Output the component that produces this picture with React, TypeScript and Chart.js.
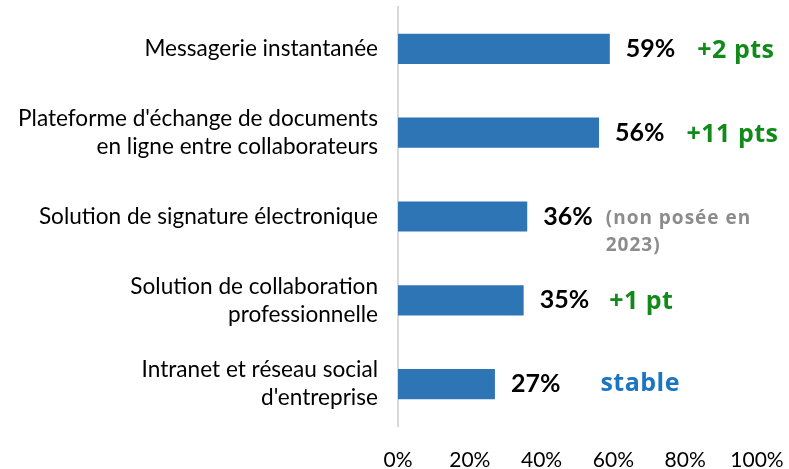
import React, { useEffect, useRef } from "react";
import { Chart, registerables } from "chart.js";

Chart.register(...registerables);

const categories: (string | string[])[] = [
  "Messagerie instantanée",
  ["Plateforme d'échange de documents", "en ligne entre collaborateurs"],
  "Solution de signature électronique",
  ["Solution de collaboration", "professionnelle"],
  ["Intranet et réseau social", "d'entreprise"],
];
const values = [59, 56, 36, 35, 27];
const valueLabels = ["59%", "56%", "36%", "35%", "27%"];
const evolutionLabels: string[][] = [
  ["+2 pts"],
  ["+11 pts"],
  ["(non posée en", "2023)"],
  ["+1 pt"],
  ["stable"],
];
const evolutionKinds = ["up", "up", "na", "up", "stable"];
const xTicks = [0, 20, 40, 60, 80, 100];

const kindStyle: Record<string, { color: string; font: string; dy: number; ls: string }> = {
  up: { color: "#118a1a", font: "700 25px 'Open Sans'", dy: 2, ls: "0.5px" },
  na: { color: "#8c8c8c", font: "700 19px 'Open Sans'", dy: 2, ls: "1px" },
  stable: { color: "#1b75c0", font: "700 25px 'Open Sans'", dy: 0, ls: "0.5px" },
};
const annotationGaps = [22, 22, 13, 20, 40];

const labelPlugin = {
  id: "barLabels",
  afterDatasetsDraw(chart: any) {
    const ctx = chart.ctx;
    const meta = chart.getDatasetMeta(0);
    meta.data.forEach((bar: any, i: number) => {
      const x = bar.x + 16;
      const y = bar.y;
      ctx.save();
      ctx.font = "700 25px Lato";
      ctx.fillStyle = "#000";
      ctx.textAlign = "left";
      ctx.textBaseline = "middle";
      ctx.fillText(valueLabels[i], x, y);
      const w = ctx.measureText(valueLabels[i]).width;
      const st = kindStyle[evolutionKinds[i]];
      ctx.font = st.font;
      ctx.fillStyle = st.color;
      (ctx as any).letterSpacing = st.ls;
      const ax = x + w + annotationGaps[i];
      evolutionLabels[i].forEach((ln, j) => {
        ctx.fillText(ln, ax, y + st.dy + j * 27);
      });
      ctx.restore();
    });
  },
};

export default function App() {
  const ref = useRef<HTMLCanvasElement | null>(null);
  useEffect(() => {
    if (!ref.current) return;
    const chart = new Chart(ref.current, {
      type: "bar",
      data: {
        labels: categories as any,
        datasets: [
          {
            data: values,
            backgroundColor: "#2E75B6",
            borderWidth: 0,
            barPercentage: 0.72,
            categoryPercentage: 0.5,
          },
        ],
      },
      options: {
        indexAxis: "y",
        responsive: false,
        animation: false,
        layout: { padding: { top: 7, right: 32, bottom: 0.8, left: 0 } },
        plugins: {
          legend: { display: false },
          tooltip: { enabled: false },
        },
        scales: {
          x: {
            min: 0,
            max: 100,
            afterBuildTicks: (scale: any) => {
              scale.ticks = xTicks.map((v) => ({ value: v }));
            },
            afterFit: (scale: any) => {
              scale.paddingLeft = 0;
              scale.paddingRight = 0;
              scale.height = 42.2;
            },
            grid: { display: false, drawTicks: false },
            border: { display: false },
            ticks: {
              padding: 21.5,
              color: "#000",
              font: { family: "Lato", size: 21 },
              callback: (v: any) => v + "%",
            },
          },
          y: {
            grid: { display: false, drawTicks: false },
            border: { display: true, color: "#d9d9d9", width: 2 },
            afterFit: (scale: any) => {
              scale.width = 398;
              scale.paddingTop = 0;
              scale.paddingBottom = 0;
            },
            ticks: {
              padding: 20,
              color: "#000",
              font: { family: "Lato", size: 22.6, lineHeight: 1.24 },
            },
          },
        },
      },
      plugins: [labelPlugin],
    });
    return () => chart.destroy();
  }, []);
  return (
    <div style={{ position: "fixed", left: 0, top: 0, width: 789, height: 469, background: "#fff" }}>
      <canvas ref={ref} width={789} height={469} />
    </div>
  );
}
